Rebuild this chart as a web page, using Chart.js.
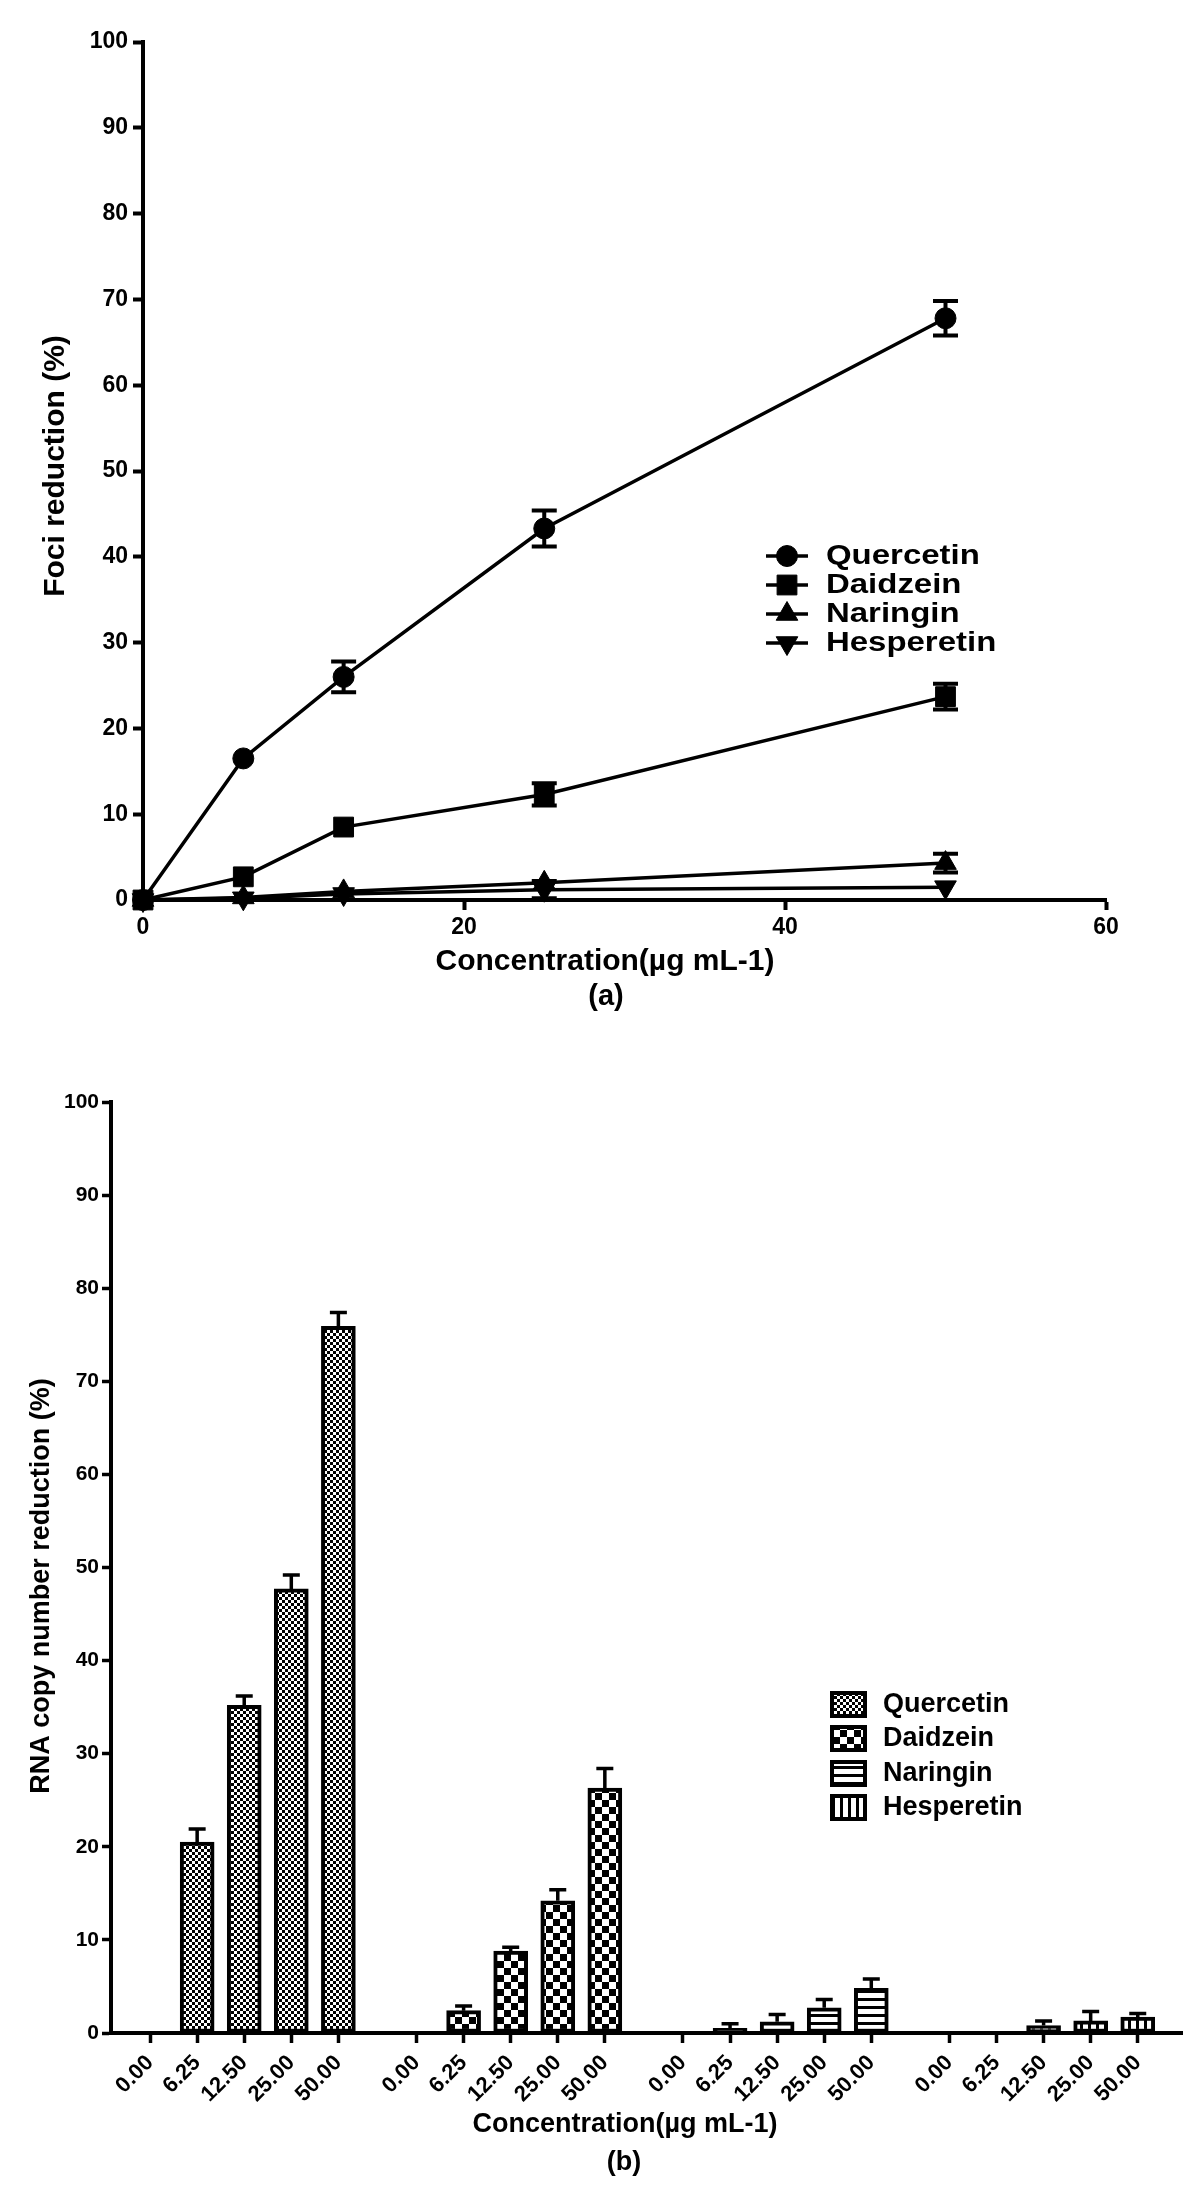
<!DOCTYPE html>
<html>
<head>
<meta charset="utf-8">
<script src="https://cdn.jsdelivr.net/npm/chart.js@4.4.1/dist/chart.umd.min.js"></script>
<style>
  html, body { margin: 0; padding: 0; background: #ffffff; }
  #chartA { position: absolute; left: 0; top: 0; }
  #chartB { position: absolute; left: 0; top: 1030px; }
</style>
</head>
<body>
<canvas id="chartA" width="1200" height="1030"></canvas>
<canvas id="chartB" width="1200" height="1169"></canvas>
<script>
const FONT = '"Liberation Sans", Arial, Helvetica, sans-serif';

// ---------- Panel (a): Foci reduction ----------
const seriesNames = ['Quercetin', 'Daidzein', 'Naringin', 'Hesperetin'];
const concA = [0, 6.25, 12.5, 25, 50];
const xTicksA = [0, 20, 40, 60];
const quercetinA = [0, 16.5, 26.0, 43.3, 67.8];
const quercetinErrA = [0, 0, 1.8, 2.1, 2.0];
const daidzeinA = [0, 2.7, 8.5, 12.3, 23.7];
const daidzeinErrA = [0, 0, 0, 1.3, 1.5];
const naringinA = [0, 0.3, 1.0, 2.0, 4.3];
const naringinErrA = [0, 0, 0, 0, 1.1];
const hesperetinA = [0, 0.2, 0.7, 1.2, 1.5];
const hesperetinErrA = [0, 0, 0, 1.0, 0];

// ---------- Panel (b): RNA copy number reduction ----------
const concLabelsB = ['0.00', '6.25', '12.50', '25.00', '50.00'];
const quercetinB = [0, 20.5, 35.2, 47.7, 75.9];
const quercetinErrB = [0, 1.4, 1.0, 1.5, 1.5];
const daidzeinB = [0, 2.4, 8.8, 14.2, 26.3];
const daidzeinErrB = [0, 0.5, 0.4, 1.2, 2.1];
const naringinB = [0, 0.5, 1.2, 2.7, 4.8];
const naringinErrB = [0, 0.5, 0.8, 0.9, 1.0];
const hesperetinB = [0, 0, 0.8, 1.3, 1.7];
const hesperetinErrB = [0, 0, 0.5, 1.0, 0.4];

const yTicksMax = 100;

// ---------------- helpers ----------------
function textPlugin(id, items) {
  return {
    id,
    afterDraw(chart) {
      const ctx = chart.ctx;
      items.forEach(t => {
        ctx.save();
        ctx.font = 'bold ' + t.size + 'px ' + FONT;
        ctx.fillStyle = '#000';
        ctx.textAlign = 'center';
        ctx.textBaseline = 'middle';
        ctx.translate(t.x, t.y);
        if (t.rot) ctx.rotate(t.rot);
        ctx.fillText(t.text, 0, 0);
        ctx.restore();
      });
    }
  };
}

// ================= Chart (a) =================
const valuesA = [quercetinA, daidzeinA, naringinA, hesperetinA];
const errorsA = [quercetinErrA, daidzeinErrA, naringinErrA, hesperetinErrA];
const markersA = [
  { style: 'circle', radius: 10.5, rotation: 0 },
  { style: 'rect', radius: 14, rotation: 0 },
  { style: 'triangle', radius: 12.5, rotation: 0 },
  { style: 'triangle', radius: 12.5, rotation: 180 }
];

const errorBarsA = {
  id: 'errorBarsA',
  afterDatasetsDraw(chart) {
    const { ctx, scales: { x, y } } = chart;
    ctx.save();
    ctx.strokeStyle = '#000';
    ctx.lineWidth = 4;
    chart.data.datasets.forEach(ds => {
      ds.data.forEach((p, i) => {
        const e = ds.errors[i];
        if (!e) return;
        const px = x.getPixelForValue(p.x);
        const top = y.getPixelForValue(p.y + e);
        const bot = y.getPixelForValue(Math.max(p.y - e, 0));
        const hw = 12.5;
        ctx.beginPath();
        ctx.moveTo(px, top); ctx.lineTo(px, bot);
        ctx.moveTo(px - hw, top); ctx.lineTo(px + hw, top);
        ctx.moveTo(px - hw, bot); ctx.lineTo(px + hw, bot);
        ctx.stroke();
      });
    });
    ctx.restore();
  }
};

const legendA = {
  id: 'legendA',
  afterDraw(chart) {
    const ctx = chart.ctx;
    const rows = [556, 585, 614, 643];
    chart.data.datasets.forEach((ds, i) => {
      const y = rows[i];
      ctx.save();
      ctx.strokeStyle = '#000';
      ctx.fillStyle = '#000';
      ctx.lineWidth = 3.5;
      ctx.beginPath(); ctx.moveTo(766, y); ctx.lineTo(808, y); ctx.stroke();
      ctx.lineWidth = 1;
      Chart.helpers.drawPoint(ctx, { pointStyle: ds.pointStyle, radius: ds.pointRadius, rotation: ds.pointRotation, borderWidth: 1 }, 787, y);
      ctx.font = 'bold 27px ' + FONT;
      ctx.textBaseline = 'middle';
      ctx.textAlign = 'left';
      ctx.translate(826, y + 1);
      ctx.scale(1.22, 1);
      ctx.fillText(ds.label, 0, 0);
      ctx.restore();
    });
  }
};

new Chart(document.getElementById('chartA'), {
  type: 'line',
  data: {
    datasets: seriesNames.map((name, k) => ({
      label: name,
      data: concA.map((c, i) => ({ x: c, y: valuesA[k][i] })),
      errors: errorsA[k],
      borderColor: '#000',
      backgroundColor: '#000',
      borderWidth: 3.5,
      tension: 0,
      pointStyle: markersA[k].style,
      pointRadius: markersA[k].radius,
      pointRotation: markersA[k].rotation,
      pointBackgroundColor: '#000',
      pointBorderColor: '#000',
      pointBorderWidth: 1,
      clip: false
    }))
  },
  options: {
    responsive: false,
    devicePixelRatio: 1,
    animation: false,
    events: [],
    layout: { padding: { top: 42, right: 94, bottom: 0, left: 0 } },
    plugins: { legend: { display: false }, tooltip: { enabled: false } },
    scales: {
      x: {
        type: 'linear',
        min: 0, max: 60,
        afterBuildTicks: s => { s.ticks = xTicksA.map(v => ({ value: v })); },
        ticks: { color: '#000', font: { family: FONT, size: 23, weight: 'bold' }, padding: 4, maxRotation: 0 },
        grid: { drawOnChartArea: false, drawTicks: true, tickLength: 10, tickWidth: 4, tickColor: '#000' },
        border: { display: true, color: '#000', width: 4 },
        afterFit: s => { s.height = 130; }
      },
      y: {
        type: 'linear',
        min: 0, max: yTicksMax,
        ticks: { stepSize: 10, color: '#000', font: { family: FONT, size: 23, weight: 'bold' }, padding: 5 },
        grid: { drawOnChartArea: false, drawTicks: true, tickLength: 10, tickWidth: 4, tickColor: '#000' },
        border: { display: true, color: '#000', width: 4 },
        afterFit: s => { s.width = 143; }
      }
    }
  },
  plugins: [errorBarsA, legendA, textPlugin('textA', [
    { text: 'Foci reduction (%)', x: 56, y: 466, size: 30, rot: -Math.PI / 2 },
    { text: 'Concentration(µg mL-1)', x: 605, y: 962, size: 30 },
    { text: '(a)', x: 606, y: 997, size: 29 }
  ])]
});

// ================= Chart (b) =================
const valuesB = [quercetinB, daidzeinB, naringinB, hesperetinB];
const errorsB = [quercetinErrB, daidzeinErrB, naringinErrB, hesperetinErrB];
const groupGap = 0.66;
function xPosB(g, i) { return g * (concLabelsB.length + groupGap) + i; }
const tickPosB = [];
seriesNames.forEach((n, g) => concLabelsB.forEach((c, i) => tickPosB.push(xPosB(g, i))));

const ctxB = document.getElementById('chartB').getContext('2d');
function makePattern(kind) {
  const c = document.createElement('canvas');
  const g = c.getContext('2d');
  if (kind === 'fine') {
    c.width = c.height = 6;
    g.fillStyle = '#fff'; g.fillRect(0, 0, 6, 6);
    g.fillStyle = '#000'; g.fillRect(0, 0, 3, 3); g.fillRect(3, 3, 3, 3);
  } else if (kind === 'coarse') {
    c.width = c.height = 14;
    g.fillStyle = '#fff'; g.fillRect(0, 0, 14, 14);
    g.fillStyle = '#000'; g.fillRect(0, 0, 7, 7); g.fillRect(7, 7, 7, 7);
  } else if (kind === 'hlines') {
    c.width = c.height = 8;
    g.fillStyle = '#fff'; g.fillRect(0, 0, 8, 8);
    g.fillStyle = '#000'; g.fillRect(0, 0, 8, 3);
  } else {
    c.width = c.height = 8;
    g.fillStyle = '#fff'; g.fillRect(0, 0, 8, 8);
    g.fillStyle = '#000'; g.fillRect(0, 0, 3, 8);
  }
  return ctxB.createPattern(c, 'repeat');
}
const patternsB = [makePattern('fine'), makePattern('coarse'), makePattern('hlines'), makePattern('vlines')];

const errorBarsB = {
  id: 'errorBarsB',
  afterDatasetsDraw(chart) {
    const { ctx, scales: { x, y } } = chart;
    ctx.save();
    ctx.strokeStyle = '#000';
    ctx.lineWidth = 3.5;
    chart.data.datasets.forEach(ds => {
      ds.data.forEach((p, i) => {
        const e = ds.errors[i];
        if (!e) return;
        const px = x.getPixelForValue(p.x);
        const base = y.getPixelForValue(p.y);
        const top = y.getPixelForValue(p.y + e);
        ctx.beginPath();
        ctx.moveTo(px, base); ctx.lineTo(px, top);
        ctx.moveTo(px - 8.5, top); ctx.lineTo(px + 8.5, top);
        ctx.stroke();
      });
    });
    ctx.restore();
  }
};

const legendB = {
  id: 'legendB',
  afterDraw(chart) {
    const ctx = chart.ctx;
    const rows = [674, 708, 743, 777];
    chart.data.datasets.forEach((ds, i) => {
      const y = rows[i];
      ctx.save();
      ctx.fillStyle = '#000';
      ctx.fillRect(830, y - 13, 37, 27);
      ctx.fillStyle = ds.backgroundColor;
      ctx.fillRect(834, y - 9, 29, 19);
      ctx.fillStyle = '#000';
      ctx.font = 'bold 27px ' + FONT;
      ctx.textBaseline = 'middle';
      ctx.textAlign = 'left';
      ctx.fillText(ds.label, 883, y + 1);
      ctx.restore();
    });
  }
};

new Chart(ctxB, {
  type: 'bar',
  data: {
    datasets: seriesNames.map((name, g) => ({
      label: name,
      data: valuesB[g].map((v, i) => ({ x: xPosB(g, i), y: v })),
      errors: errorsB[g],
      backgroundColor: patternsB[g],
      borderColor: '#000',
      borderWidth: 4,
      borderSkipped: false,
      barThickness: 34,
      grouped: false
    }))
  },
  options: {
    responsive: false,
    devicePixelRatio: 1,
    animation: false,
    events: [],
    layout: { padding: { top: 72, right: 18, bottom: 0, left: 0 } },
    plugins: { legend: { display: false }, tooltip: { enabled: false } },
    scales: {
      x: {
        type: 'linear',
        offset: false,
        min: -0.83,
        max: xPosB(3, 4) + 0.94,
        afterBuildTicks: s => { s.ticks = tickPosB.map(v => ({ value: v })); },
        ticks: {
          autoSkip: false, minRotation: 45, maxRotation: 45,
          color: '#000', font: { family: FONT, size: 22, weight: 'bold' }, padding: 7,
          callback: (val, idx) => concLabelsB[idx % concLabelsB.length]
        },
        grid: { offset: false, drawOnChartArea: false, drawTicks: true, tickLength: 10, tickWidth: 3.5, tickColor: '#000' },
        border: { display: true, color: '#000', width: 4 },
        afterFit: s => { s.height = 166; }
      },
      y: {
        type: 'linear',
        min: 0, max: yTicksMax,
        ticks: { stepSize: 10, color: '#000', font: { family: FONT, size: 21, weight: 'bold' }, padding: 3 },
        grid: { drawOnChartArea: false, drawTicks: true, tickLength: 9, tickWidth: 3.5, tickColor: '#000' },
        border: { display: true, color: '#000', width: 4 },
        afterFit: s => { s.width = 111; }
      }
    }
  },
  plugins: [errorBarsB, legendB, textPlugin('textB', [
    { text: 'RNA copy number reduction (%)', x: 42, y: 556, size: 27, rot: -Math.PI / 2 },
    { text: 'Concentration(µg mL-1)', x: 625, y: 1095, size: 27 },
    { text: '(b)', x: 624, y: 1133, size: 27 }
  ])]
});
</script>
</body>
</html>
